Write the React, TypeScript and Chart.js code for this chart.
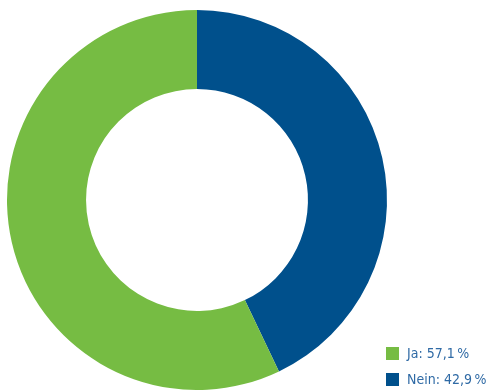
import React, { useEffect, useRef } from "react";
import { Chart, registerables } from "chart.js";

Chart.register(...registerables);

const labels = ["Nein", "Ja"];
const values = [42.9, 57.1];
const valueTexts = ["42,9\u2009%", "57,1\u2009%"];
const colors = ["#00508c", "#76bc43"];
const legendOrder = [1, 0];

export default function App() {
  const ref = useRef<HTMLCanvasElement | null>(null);
  useEffect(() => {
    if (!ref.current) return;
    const chart = new Chart(ref.current, {
      type: "doughnut",
      data: {
        labels,
        datasets: [
          {
            data: values,
            backgroundColor: colors,
            borderWidth: 0,
          },
        ],
      },
      options: {
        animation: false,
        responsive: false,
        cutout: "58.4%",
        layout: { padding: { left: 7, top: 10, right: 101, bottom: 0 } },
        plugins: { legend: { display: false }, tooltip: { enabled: false } },
      },
    });
    return () => chart.destroy();
  }, []);
  return (
    <div style={{ position: "absolute", left: 0, top: 0, width: 488, height: 390, background: "#fff" }}>
      <canvas ref={ref} width={488} height={390} style={{ display: "block" }} />
      <div
        style={{
          position: "absolute",
          left: 386,
          top: 340,
          fontFamily: "'Liberation Sans Narrow', 'DejaVu Sans Condensed', sans-serif",
          fontSize: 14,
          color: "#2f6aa5",
        }}
      >
        {legendOrder.map((i, k) => (
          <div key={i} style={{ display: "flex", alignItems: "center", height: 26, marginTop: k === 0 ? 0 : 0 }}>
            <span style={{ display: "inline-block", width: 13, height: 13, background: colors[i], marginRight: 8 }} />
            <span>{labels[i] + ": " + valueTexts[i]}</span>
          </div>
        ))}
      </div>
    </div>
  );
}
